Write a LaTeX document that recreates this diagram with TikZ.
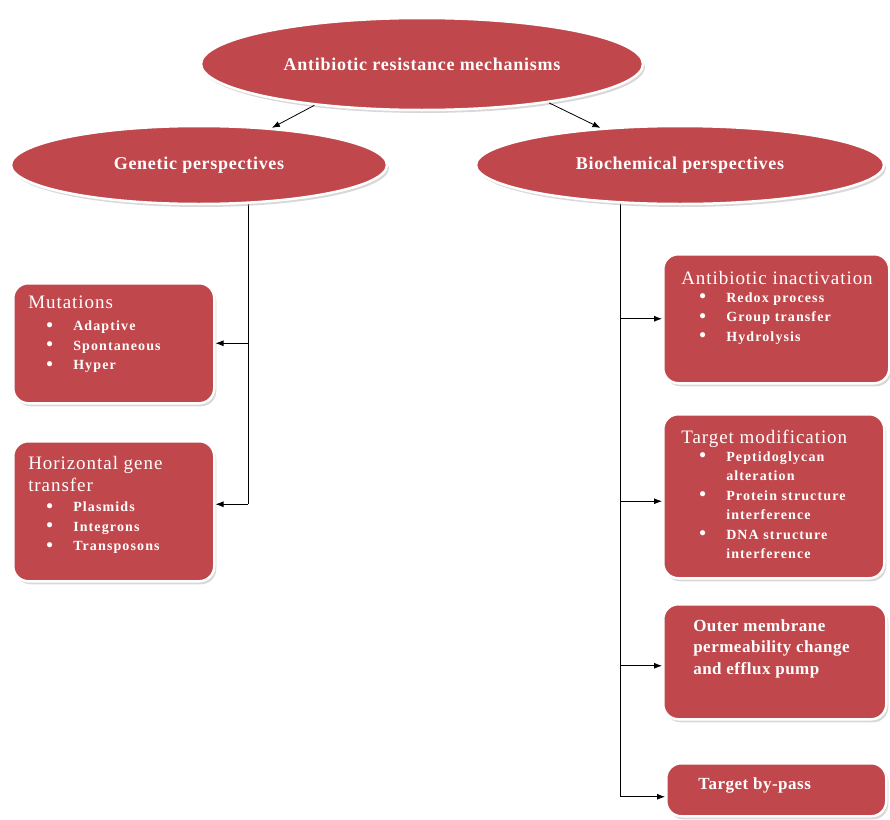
\documentclass[tikz,border=0pt]{standalone}
\usepackage{fontspec}
\setmainfont{Liberation Serif}
\newfontfamily\headfam[LetterSpace=4]{Liberation Serif}
\newfontfamily\titlefam[LetterSpace=5]{Liberation Serif}
\newfontfamily\itemfam[LetterSpace=8]{Liberation Serif}
\newfontfamily\plainfam[LetterSpace=3]{Liberation Serif}
\usetikzlibrary{shapes.geometric,shadows,arrows.meta,positioning,backgrounds}

\definecolor{mechred}{RGB}{192,72,76}

% box body: width, height, left pad, top pad, text
\newcommand{\boxbody}[5]{\parbox[c][#2][t]{#1}{\raggedright\leftskip=#3\vspace*{#4}#5}}
\newcommand{\titl}[1]{{\titlefam\fontsize{19}{22}\selectfont #1\par}}
\newcommand{\bul}[1]{\par\hspace*{18pt}\makebox[27pt][l]{\raisebox{-0.5pt}{\fontsize{19}{19}\selectfont\textbullet}}#1}
\newcommand{\cont}[1]{\par\hspace*{45pt}#1}
\newcommand{\items}{\itemfam\bfseries\fontsize{14}{19.5}\selectfont}

\tikzset{
  shad/.style={drop shadow={shadow xshift=2pt,shadow yshift=-3pt,fill=black!30}},
  branch/.style={ellipse, fill=mechred, draw=white, line width=2.5pt, shad,
    text=white, font=\headfam\bfseries\fontsize{18}{21}\selectfont, inner sep=0pt},
  mech/.style={rectangle, rounded corners=15pt, fill=mechred, draw=white, line width=2.5pt,
    shad, text=white, inner sep=0pt, anchor=north west},
  link/.style={-{Latex[length=8pt,width=6pt]}, line width=0.8pt},
  trunk/.style={line width=0.8pt},
}

\begin{document}
\begin{tikzpicture}[x=1pt,y=-1pt]
\useasboundingbox (0,0) rectangle (890,819);

% ellipses
\node[branch, minimum width=442pt, minimum height=92pt] (top) at (422,64) {Antibiotic resistance mechanisms};
\node[branch, minimum width=376pt, minimum height=78pt] (gen) at (199,165) {Genetic perspectives};
\node[branch, minimum width=408pt, minimum height=78pt] (bio) at (680,165) {Biochemical perspectives};

% genetic side
\node[mech] (mut) at (12,282) {\boxbody{201pt}{120pt}{15pt}{13pt}{%
  \titl{Mutations}\vspace{2.5pt}
  {\items\bul{Adaptive}\bul{Spontaneous}\bul{Hyper}\par}}};
\node[mech] (hgt) at (12,440) {\boxbody{201pt}{140pt}{15pt}{15pt}{%
  \titl{Horizontal gene\\transfer}\vspace{1pt}
  {\items\bul{Plasmids}\bul{Integrons}\bul{Transposons}\par}}};

% biochemical side
\node[mech] (inact) at (662,253) {\boxbody{226pt}{129pt}{18pt}{17pt}{%
  \titl{Antibiotic inactivation}\vspace{-1.5pt}
  {\items\bul{Redox process}\bul{Group transfer}\bul{Hydrolysis}\par}}};
\node[mech] (tmod) at (662,413) {\boxbody{221pt}{164pt}{18pt}{16pt}{%
  \titl{Target modification}\vspace{-2pt}
  {\items\bul{Peptidoglycan}\cont{alteration}
  \bul{Protein structure}\cont{interference}
  \bul{DNA structure}\cont{interference}\par}}};
\node[mech] (outer) at (662,603) {\boxbody{223pt}{115pt}{30pt}{15pt}{%
  {\plainfam\bfseries\fontsize{17}{21.5}\selectfont
  Outer membrane\\permeability change\\and efflux pump\par}}};
\node[mech] (bypass) at (665,762) {\boxbody{220pt}{53pt}{32pt}{14pt}{%
  {\plainfam\bfseries\fontsize{17}{20}\selectfont Target by-pass\par}}};

\coordinate (gx) at (248,0);
\coordinate (bx) at (620,0);

% connectors
\draw[link] (top.201) -- (gen.27);
\draw[link] (top.-17) -- (bio.155);

\begin{scope}[on background layer]
\draw[trunk] (gen.center -| gx) -- ([yshift=7pt]hgt.east -| gx);
\draw[trunk] (bio.center -| bx) -- ([yshift=-7pt]bypass.west -| bx);
\end{scope}

\draw[link] (mut.east -| gx) -- (mut.east);
\draw[link] ([yshift=7pt]hgt.east -| gx) -- ([yshift=7pt]hgt.east);
\draw[link] (inact.west -| bx) -- (inact.west);
\draw[link] ([yshift=-5pt]tmod.west -| bx) -- ([yshift=-5pt]tmod.west);
\draw[link] ([yshift=-4pt]outer.west -| bx) -- ([yshift=-4pt]outer.west);
\draw[link] ([yshift=-7pt]bypass.west -| bx) -- ([yshift=-7pt]bypass.west);

\end{tikzpicture}
\end{document}
